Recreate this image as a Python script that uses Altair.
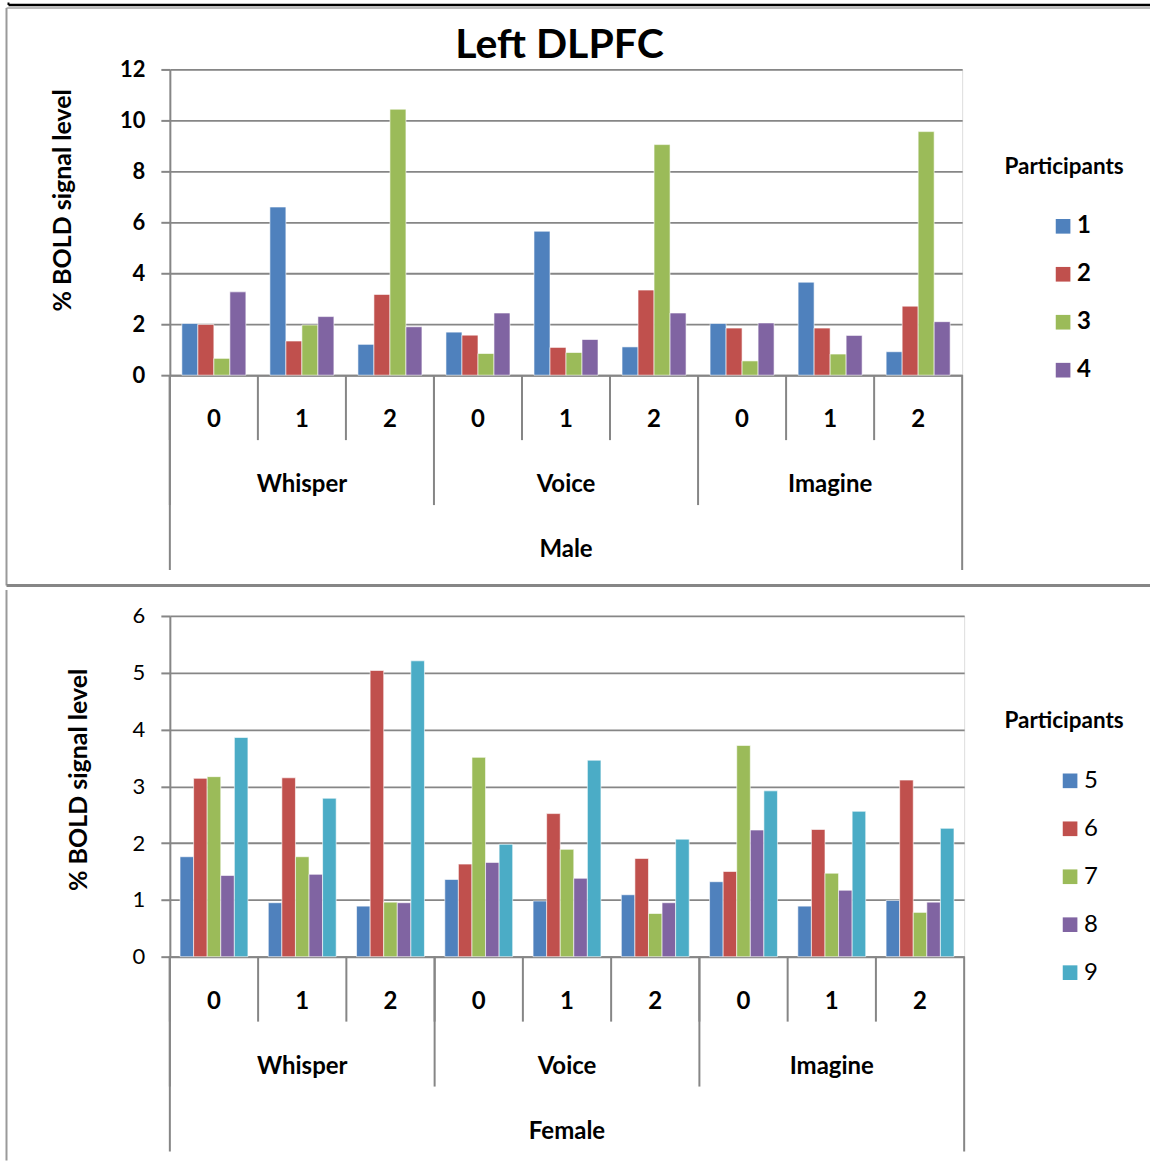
import altair as alt
import pandas as pd

# ---- data -------------------------------------------------------------
conditions = ["Whisper", "Voice", "Imagine"]
levels = ["0", "1", "2"]

# values per participant, ordered Whisper 0/1/2, Voice 0/1/2, Imagine 0/1/2
male_ids = ["1", "2", "3", "4"]
p1 = [2.03, 6.60, 1.21, 1.69, 5.65, 1.11, 2.03, 3.65, 0.92]
p2 = [1.99, 1.34, 3.17, 1.57, 1.09, 3.34, 1.85, 1.85, 2.71]
p3 = [0.66, 1.97, 10.44, 0.85, 0.89, 9.05, 0.56, 0.83, 9.56]
p4 = [3.27, 2.30, 1.90, 2.44, 1.40, 2.44, 2.05, 1.56, 2.10]

female_ids = ["5", "6", "7", "8", "9"]
p5 = [1.76, 0.95, 0.89, 1.36, 0.98, 1.09, 1.32, 0.89, 0.99]
p6 = [3.14, 3.15, 5.04, 1.63, 2.52, 1.73, 1.50, 2.24, 3.11]
p7 = [3.17, 1.76, 0.96, 3.51, 1.89, 0.76, 3.72, 1.47, 0.78]
p8 = [1.43, 1.45, 0.95, 1.66, 1.38, 0.95, 2.23, 1.17, 0.96]
p9 = [3.86, 2.79, 5.21, 1.98, 3.46, 2.07, 2.92, 2.56, 2.26]

male_colors = ["#4F81BD", "#C0504D", "#9BBB59", "#8064A2"]
female_colors = ["#4F81BD", "#C0504D", "#9BBB59", "#8064A2", "#4BACC6"]

FONT = "Lato"
GRAY = "#868686"

cells = [f"{c}|{l}" for c in conditions for l in levels]
cell_df = pd.DataFrame(
    {"cell": cells,
     "cond": [c for c in conditions for _ in levels],
     "level": [l for _ in conditions for l in levels]}
)


def long_frame(ids, series):
    rows = []
    for pid, vals in zip(ids, series):
        for cell, v in zip(cells, vals):
            rows.append({"cell": cell, "participant": pid, "value": v})
    return pd.DataFrame(rows)


def rule(x, x2, y, y2, color=GRAY, width=2.0):
    return alt.Chart(pd.DataFrame({"k": [0]})).mark_rule(
        color=color, strokeWidth=width, strokeCap="butt"
    ).encode(x=alt.value(x), x2=alt.value(x2), y=alt.value(y), y2=alt.value(y2))


def label(text, x, y, size, weight="bold", angle=0):
    return alt.Chart(pd.DataFrame({"t": [text]})).mark_text(
        font=FONT, fontSize=size, fontWeight=weight, color="black",
        align="center", baseline="middle", angle=angle
    ).encode(text="t:N", x=alt.value(x), y=alt.value(y))


def panel(df, ids, colors, W, H, ymax, ystep, tick_weight, legend_weight,
          sex, legend_x, legend_y, ytitle_xy, ptitle_xy):
    xenc = alt.X("cell:N", sort=cells,
                 scale=alt.Scale(domain=cells, paddingInner=0, paddingOuter=0),
                 axis=alt.Axis(labels=False, ticks=False, title=None, grid=False,
                               domainColor=GRAY, domainWidth=2))
    bars = alt.Chart(df).mark_bar(stroke="white", strokeWidth=1, strokeOpacity=0.6).encode(
        x=xenc,
        xOffset=alt.XOffset("participant:N", sort=ids,
                            scale=alt.Scale(domain=ids, paddingInner=0, paddingOuter=0.75)),
        y=alt.Y("value:Q",
                scale=alt.Scale(domain=[0, ymax], nice=False, zero=True),
                axis=alt.Axis(values=list(range(0, ymax + 1, ystep)), title=None,
                              grid=True, gridColor=GRAY, gridWidth=1.8,
                              domainColor=GRAY, domainWidth=2,
                              tickColor=GRAY, tickWidth=2, tickSize=9,
                              labelFont=FONT, labelFontSize=22, labelColor="black",
                              labelFontWeight=tick_weight, labelPadding=16)),
        color=alt.Color("participant:N",
                        scale=alt.Scale(domain=ids, range=colors),
                        legend=alt.Legend(orient="none", legendX=legend_x, legendY=legend_y,
                                          title=None, symbolType="square", symbolSize=215,
                                          symbolStrokeWidth=0, padding=0,
                                          labelFont=FONT, labelFontSize=24,
                                          labelFontWeight=legend_weight, labelColor="black",
                                          labelOffset=2, rowPadding=24)),
    )

    xs = alt.X("cell:N", sort=cells, bandPosition=0)
    sep1 = alt.Chart(cell_df).mark_rule(color=GRAY, strokeWidth=2).encode(
        x=xs, y=alt.value(H), y2=alt.value(H + 65))
    sep2 = alt.Chart(cell_df[cell_df.level == "0"]).mark_rule(color=GRAY, strokeWidth=2).encode(
        x=xs, y=alt.value(H), y2=alt.value(H + 130))
    sep3a = alt.Chart(cell_df.iloc[[0]]).mark_rule(color=GRAY, strokeWidth=2).encode(
        x=xs, y=alt.value(H), y2=alt.value(H + 195))
    sep3b = alt.Chart(cell_df.iloc[[-1]]).mark_rule(color=GRAY, strokeWidth=2).encode(
        x=alt.X("cell:N", sort=cells, bandPosition=1), y=alt.value(H), y2=alt.value(H + 195))

    txt = dict(font=FONT, fontSize=24, fontWeight="bold", color="black",
               align="center", baseline="middle")
    lvl1 = alt.Chart(cell_df).mark_text(**txt).encode(
        x=alt.X("cell:N", sort=cells), y=alt.value(H + 45), text="level:N")
    lvl2 = alt.Chart(cell_df[cell_df.level == "1"]).mark_text(**txt).encode(
        x=alt.X("cell:N", sort=cells), y=alt.value(H + 110), text="cond:N")
    lvl3 = alt.Chart(cell_df[cell_df.cell == "Voice|1"].assign(sex=sex)).mark_text(**txt).encode(
        x=alt.X("cell:N", sort=cells), y=alt.value(H + 175), text="sex:N")

    ytitle = label("% BOLD signal level", ytitle_xy[0], ytitle_xy[1], 25, angle=270)
    ptitle = label("Participants", ptitle_xy[0], ptitle_xy[1], 22.5)

    return [bars, sep1, sep2, sep3a, sep3b, lvl1, lvl2, lvl3, ytitle, ptitle]


male_df = long_frame(male_ids, [p1, p2, p3, p4])
female_df = long_frame(female_ids, [p5, p6, p7, p8, p9])

W1, H1 = 793, 306
W2, H2 = 795, 341

top_layers = panel(male_df, male_ids, male_colors, W1, H1, 12, 2, "bold", "bold", "Male",
                   882, 145, (-107, 131), (895, 98))
top_frame = [
    rule(-168.5, -168.5, -67.5, -60, color="white", width=1),      # page corner
    rule(-161.5, -161.5, -67, -64.5, color="black", width=2),
    rule(-161.5, 981, -64.5, -64.5, color="black", width=2.5),
    rule(-163.5, 981, -61.5, -61.5, color="#a6a6a6", width=1.5),
    rule(-163.5, -163.5, -61.5, 516.5, color="#9a9a9a", width=2),
    rule(-163.5, 981, 516.5, 516.5, color=GRAY, width=3),
]
title = label("Left DLPFC", 390, -23, 41)
top = alt.layer(*top_frame, *top_layers, title).properties(width=W1, height=H1)

bottom_layers = panel(female_df, female_ids, female_colors, W2, H2, 6, 1, "normal", "normal", "Female",
                      889, 153, (-91, 164), (895, 105))
bottom_frame = [rule(-163.5, -163.5, -26, 545, color="#9a9a9a", width=2)]
bottom = alt.layer(*bottom_frame, *bottom_layers).properties(width=W2, height=H2)

chart = alt.vconcat(top, bottom, spacing=0).resolve_scale(
    color="independent", x="independent", y="independent", xOffset="independent"
).resolve_legend(color="independent").properties(
    padding={"left": 0, "top": 0, "right": 0, "bottom": 0}
).configure_view(stroke=None).configure(font=FONT)

chart.save("out.html", embed_options={"renderer": "svg", "actions": False})
